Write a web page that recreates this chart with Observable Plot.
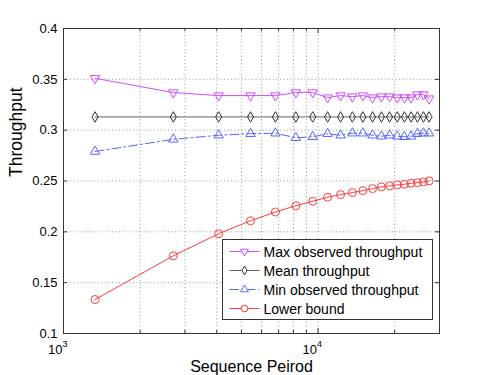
<!DOCTYPE html>
<html>
<head>
<meta charset="utf-8">
<script src="https://cdn.jsdelivr.net/npm/d3@7"></script>
<script src="https://cdn.jsdelivr.net/npm/@observablehq/plot@0.6"></script>
<style>
  html, body { margin: 0; padding: 0; background: #fff; }
  #chart { position: relative; width: 485px; height: 375px; }
</style>
</head>
<body>
<div id="chart"></div>
<script>
// ---- data ----
const periods = [1330, 2700, 4070, 5430, 6800, 8180, 9530, 10900, 12260, 13640, 15000, 16370, 17740, 19100, 20470, 21840, 23200, 24570, 25940, 27300];
const maxThroughput = [0.351, 0.337, 0.334, 0.334, 0.334, 0.337, 0.337, 0.332, 0.334, 0.333, 0.334, 0.332, 0.333, 0.333, 0.332, 0.332, 0.332, 0.335, 0.335, 0.331];
const meanThroughput = [0.313, 0.313, 0.313, 0.313, 0.313, 0.313, 0.313, 0.313, 0.313, 0.313, 0.313, 0.313, 0.313, 0.313, 0.313, 0.313, 0.313, 0.313, 0.313, 0.313];
const minThroughput = [0.279, 0.291, 0.295, 0.2965, 0.297, 0.2925, 0.2935, 0.2965, 0.295, 0.297, 0.297, 0.295, 0.294, 0.295, 0.294, 0.2935, 0.294, 0.2965, 0.297, 0.297];
const lowerBound = [0.1334, 0.1764, 0.1981, 0.2109, 0.2195, 0.2257, 0.2301, 0.234, 0.2366, 0.2386, 0.2405, 0.2425, 0.2442, 0.2452, 0.2462, 0.2468, 0.2478, 0.2484, 0.2491, 0.2501];
const seriesNames = ["Max observed throughput", "Mean throughput", "Min observed throughput", "Lower bound"];
const yTicks = [0.1, 0.15, 0.2, 0.25, 0.3, 0.35, 0.4];
const xMajorTicks = [1000, 10000];
const xMajorExp = ["3", "4"];
const xMinorTicks = [2000, 3000, 4000, 5000, 6000, 7000, 8000, 9000, 20000, 30000];
const xLabel = "Sequence Peirod";
const yLabel = "Throughput";

// ---- styles ----
const colors = ["#cc4dff", "#333333", "#5566ff", "#ff3b3b"];
const lineColors = ["#cc4dff", "#666666", "#5566ff", "#ff3b3b"];
const dashes = [null, null, "9,3,2,3", null];

const downTriangle = {
  draw(context, size) {
    const y = -Math.sqrt(size / (3 * Math.sqrt(3)));
    context.moveTo(0, -y * 2);
    context.lineTo(-Math.sqrt(3) * y, y);
    context.lineTo(Math.sqrt(3) * y, y);
    context.closePath();
  }
};
const symbols = [downTriangle, "diamond", "triangle", "circle"];
const d3Symbols = [downTriangle, d3.symbolDiamond, d3.symbolTriangle, d3.symbolCircle];
const radii = [3.5, 3.2, 3.5, 4];

const seriesValues = [maxThroughput, meanThroughput, minThroughput, lowerBound];
const tables = seriesValues.map(vals => periods.map((p, i) => ({x: p, y: vals[i]})));

const W = 485, H = 375, mL = 63, mR = 46, mT = 28, mB = 42;
const innerH = H - mT - mB;
const innerW = W - mL - mR;
const font = "'Liberation Sans', Arial, Helvetica, sans-serif";
const gridStyle = {stroke: "#9a9a9a", strokeOpacity: 1, strokeDasharray: "1,2.5", strokeWidth: 1};

const marks = [
  // grids
  Plot.ruleX(xMinorTicks.filter(d => d < 30000).concat([10000]), {x: d => d, ...gridStyle}),
  Plot.ruleY(yTicks.filter(d => d > 0.1 && d < 0.4), {y: d => d, ...gridStyle}),
  // ticks (inside, bottom & top)
  Plot.ruleX(xMajorTicks, {x: d => d, stroke: "#333", insetTop: innerH - 5}),
  Plot.ruleX(xMajorTicks, {x: d => d, stroke: "#333", insetBottom: innerH - 5}),
  Plot.ruleX(xMinorTicks, {x: d => d, stroke: "#333", insetTop: innerH - 3}),
  Plot.ruleX(xMinorTicks, {x: d => d, stroke: "#333", insetBottom: innerH - 3}),
  Plot.ruleY(yTicks, {y: d => d, stroke: "#333", insetRight: innerW - 4}),
  Plot.ruleY(yTicks, {y: d => d, stroke: "#333", insetLeft: innerW - 4}),
  Plot.frame({stroke: "#333", strokeWidth: 1}),
  // y tick labels
  Plot.axisY(yTicks, {tickSize: 0, tickPadding: 6, tickFormat: d => String(d), fontSize: 13, fill: "#000", label: null}),
  // x tick labels 10^n
  Plot.text(xMajorTicks, {x: d => d, text: () => "10", frameAnchor: "bottom", textAnchor: "end", dx: -1, dy: 20, fontSize: 13, lineAnchor: "bottom", fill: "#000"}),
  Plot.text(xMajorTicks, {x: d => d, text: (d, i) => xMajorExp[i], frameAnchor: "bottom", textAnchor: "start", dx: -1, dy: 13, fontSize: 9, lineAnchor: "bottom", fill: "#000"}),
  // axis titles
  Plot.text([xLabel], {frameAnchor: "bottom", dy: 38, fontSize: 16, lineAnchor: "bottom", fill: "#000"}),
  Plot.text([yLabel], {frameAnchor: "left", rotate: -90, dx: -47, dy: -4, fontSize: 17.5, fill: "#000"})
];

tables.forEach((t, k) => {
  marks.push(Plot.line(t, {x: "x", y: "y", stroke: lineColors[k], strokeWidth: 1, strokeDasharray: dashes[k]}));
  marks.push(Plot.dot(t, {x: "x", y: "y", symbol: () => symbols[k], r: radii[k], stroke: colors[k], fill: "none", strokeWidth: 1}));
});

const chart = Plot.plot({
  width: W, height: H,
  marginLeft: mL, marginRight: mR, marginTop: mT, marginBottom: mB,
  style: {fontFamily: font, fontSize: "13px", background: "#fff", color: "#000"},
  x: {type: "log", domain: [1000, 30000], axis: null},
  y: {domain: [0.1, 0.4], axis: null},
  symbol: {type: "identity"},
  marks
});
document.getElementById("chart").appendChild(chart);

// ---- legend (drawn into the svg) ----
const svg = d3.select(chart);
const lg = svg.append("g").attr("transform", "translate(222.5,239.5)");
lg.append("rect").attr("width", 210).attr("height", 80).attr("fill", "#fff").attr("stroke", "#333");
seriesNames.forEach((name, k) => {
  const cy = 12 + k * 19;
  lg.append("line").attr("x1", 7).attr("x2", 37).attr("y1", cy).attr("y2", cy)
    .attr("stroke", lineColors[k]).attr("stroke-dasharray", dashes[k]);
  lg.append("path").attr("transform", `translate(22,${cy})`)
    .attr("d", d3.symbol(d3Symbols[k], Math.PI * radii[k] * radii[k] * 0.7)())
    .attr("fill", "#fff").attr("stroke", colors[k]);
  lg.append("text").attr("x", 41).attr("y", cy + 5).attr("text-anchor", "start")
    .style("font-size", "14px").style("font-family", font).attr("fill", "#000").text(name);
});
</script>
</body>
</html>
